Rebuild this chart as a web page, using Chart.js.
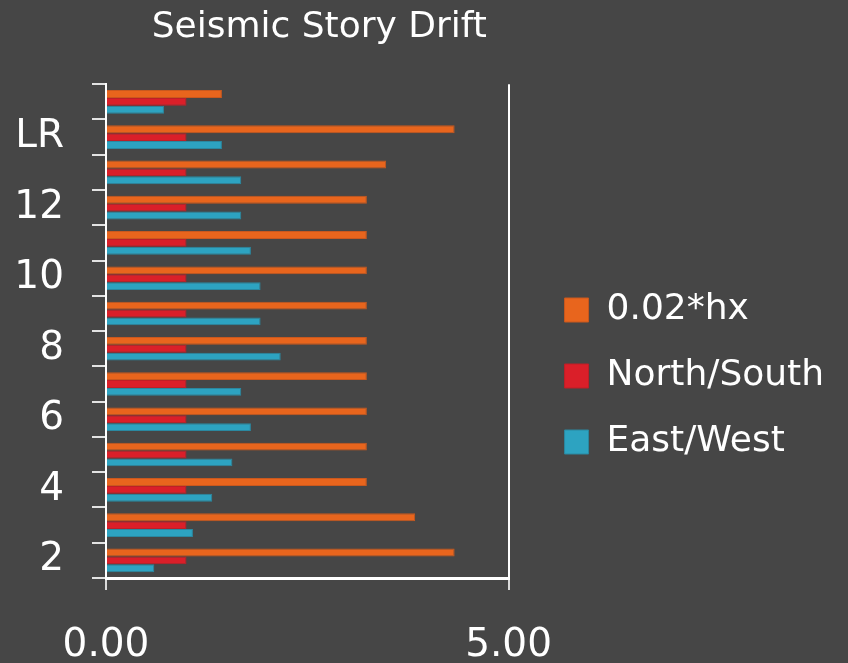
<!DOCTYPE html>
<html>
<head>
<meta charset="utf-8">
<title>Seismic Story Drift</title>
<script src="https://cdn.jsdelivr.net/npm/chart.js@4"></script>
<style>
  html, body { margin: 0; padding: 0; background: #464646; }
  #wrap { width: 848px; height: 663px; position: relative; }
</style>
</head>
<body>
<div id="wrap"><canvas id="drift"></canvas></div>
<script>
// Story levels, listed top of building first
const stories = ['Roof', 'LR', '13', '12', '11', '10', '9', '8', '7', '6', '5', '4', '3', '2'];

// Allowable drift 0.02*hx per story
const allowable = [1.44, 4.33, 3.48, 3.24, 3.24, 3.24, 3.24, 3.24, 3.24, 3.24, 3.24, 3.24, 3.84, 4.33];
// Computed drift, North/South direction
const northSouth = [1.0, 1.0, 1.0, 1.0, 1.0, 1.0, 1.0, 1.0, 1.0, 1.0, 1.0, 1.0, 1.0, 1.0];
// Computed drift, East/West direction
const eastWest = [0.72, 1.44, 1.68, 1.68, 1.80, 1.92, 1.92, 2.17, 1.68, 1.80, 1.57, 1.32, 1.08, 0.60];

// Value axis ticks
const xTicks = [0, 5];

const FONT = 'DejaVu Sans';
const WHITE = '#ffffff';

// Nudges the title block so it sits over the plot slightly right of centre
const titleNudge = {
  id: 'titleNudge',
  afterLayout(chart) {
    const t = chart.titleBlock;
    if (t) { t.left += 12; t.right += 12; }
  }
};

new Chart(document.getElementById('drift'), {
  type: 'bar',
  data: {
    labels: stories,
    datasets: [
      { label: '0.02*hx', data: allowable, backgroundColor: '#E8651D', borderColor: '#C9581E', borderWidth: 1, yAxisID: 'y' },
      { label: 'North/South', data: northSouth, backgroundColor: '#DA1F29', borderColor: '#BE1F27', borderWidth: 1, yAxisID: 'y' },
      { label: 'East/West', data: eastWest, backgroundColor: '#2DA3C1', borderColor: '#2A88A0', borderWidth: 1, yAxisID: 'y' }
    ]
  },
  options: {
    indexAxis: 'y',
    responsive: true,
    maintainAspectRatio: false,
    animation: false,
    layout: { padding: { left: 0, right: 14, top: 0, bottom: 0 } },
    datasets: { bar: { categoryPercentage: 0.67, barPercentage: 1.0 } },
    scales: {
      x: {
        type: 'linear',
        position: 'bottom',
        min: 0,
        max: 5,
        afterBuildTicks: s => { s.ticks = xTicks.map(v => ({ value: v })); },
        afterFit: s => { s.height = 85; },
        ticks: {
          color: WHITE,
          font: { family: FONT, size: 39 },
          padding: 32,
          maxRotation: 0,
          callback: v => Number(v).toFixed(2)
        },
        grid: {
          color: WHITE,
          lineWidth: 2,
          drawOnChartArea: true,
          drawTicks: true,
          tickLength: 12,
          tickColor: 'rgba(255,255,255,0.8)'
        },
        border: { display: true, color: WHITE, width: 3 }
      },
      y: {
        type: 'category',
        position: 'left',
        afterFit: s => { s.width = 106; },
        ticks: {
          color: WHITE,
          font: { family: FONT, size: 39 },
          padding: 28,
          autoSkip: false,
          callback: function (value, index) {
            return index % 2 === 1 ? this.getLabelForValue(value) : '';
          }
        },
        grid: {
          offset: true,
          drawOnChartArea: false,
          drawTicks: true,
          tickLength: 14,
          lineWidth: 2,
          color: 'rgba(255,255,255,0.85)'
        },
        border: { display: true, color: WHITE, width: 2 }
      },
      // spacer between the plot and the legend
      gap: {
        type: 'linear',
        position: 'right',
        display: true,
        afterFit: s => { s.width = 26; },
        ticks: { display: false },
        grid: { display: false },
        border: { display: false }
      }
    },
    plugins: {
      title: {
        display: true,
        text: 'Seismic Story Drift',
        color: WHITE,
        fullSize: false,
        font: { family: FONT, size: 36, weight: 'normal' },
        padding: { top: 6, bottom: 35 }
      },
      legend: {
        display: true,
        position: 'right',
        align: 'center',
        maxWidth: 400,
        title: { display: true, text: '', color: 'rgba(0,0,0,0)', font: { size: 10 }, padding: { top: 77, bottom: 0 } },
        labels: {
          color: WHITE,
          font: { family: FONT, size: 36 },
          boxWidth: 24,
          boxHeight: 24,
          padding: 30
        }
      },
      tooltip: { enabled: false }
    }
  },
  plugins: [titleNudge]
});
</script>
</body>
</html>
